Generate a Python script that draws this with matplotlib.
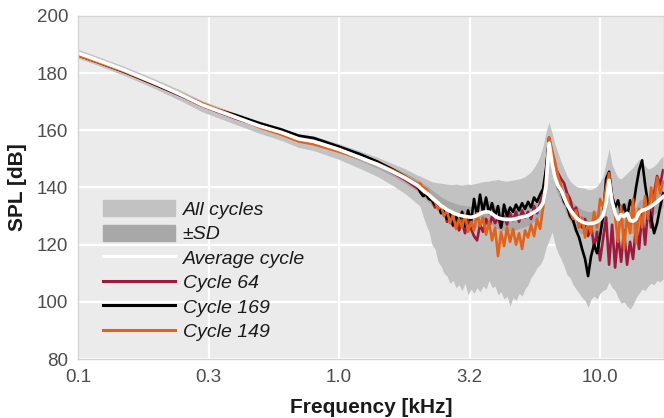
import numpy as np
import matplotlib
matplotlib.use('Agg')
import matplotlib.pyplot as plt
from matplotlib.patches import Patch

plt.rcParams['font.family'] = ['Liberation Sans', 'DejaVu Sans']

# frequency grid [kHz]: smooth low part + dense high part
freq_low = [0.1, 0.12, 0.15, 0.2, 0.25, 0.3, 0.4, 0.5, 0.6, 0.7, 0.8, 1.0, 1.2, 1.4, 1.6, 1.8, 2.0]
freq_high = [2.043, 2.098, 2.154, 2.212, 2.271, 2.332, 2.395, 2.459, 2.525, 2.593,
             2.662, 2.734, 2.807, 2.882, 2.960, 3.039, 3.121, 3.204, 3.290, 3.379,
             3.469, 3.562, 3.658, 3.756, 3.857, 3.960, 4.066, 4.175, 4.287, 4.402,
             4.521, 4.642, 4.766, 4.894, 5.026, 5.160, 5.299, 5.441, 5.587, 5.737,
             5.891, 6.049, 6.211, 6.378, 6.549, 6.725, 6.905, 7.090, 7.280, 7.476,
             7.676, 7.882, 8.093, 8.311, 8.534, 8.762, 8.998, 9.239, 9.487, 9.741,
             10.00, 10.27, 10.55, 10.83, 11.12, 11.42, 11.72, 12.04, 12.36, 12.69,
             13.03, 13.38, 13.74, 14.11, 14.49, 14.88, 15.28, 15.69, 16.11, 16.54,
             16.98, 17.44]

# average cycle [dB]
avg_low = [187.0, 184.4, 181.1, 176.3, 172.3, 168.8, 164.6, 161.4, 159.3, 157.0, 156.1, 153.3, 150.5, 148.1, 145.6, 143.2, 140.7]
avg_high = [139.9, 139.0, 138.2, 137.4, 136.4, 135.5, 134.6, 133.6, 133.0, 132.2,
            131.7, 131.2, 130.7, 130.3, 130.1, 129.9, 129.7, 129.6, 129.8, 130.2,
            130.8, 131.3, 131.5, 131.4, 130.8, 130.0, 129.4, 129.1, 128.9, 128.8,
            128.8, 128.9, 129.1, 129.4, 129.7, 129.9, 130.2, 130.8, 131.4, 132.0,
            133.0, 134.6, 140.5, 155.5, 148.5, 143.5, 140.5, 139.0, 136.5, 134.0,
            132.3, 130.8, 129.5, 128.6, 128.0, 127.6, 127.4, 127.4, 127.6, 128.0,
            128.8, 130.3, 134.5, 142.5, 135.0, 131.0, 128.8, 130.5, 129.8, 131.0,
            128.5, 128.2, 129.0, 131.2, 132.0, 132.3, 132.8, 133.4, 134.2, 135.0,
            135.8, 136.8]

# standard deviation [dB]
sd_low = [0.5, 0.5, 0.5, 0.6, 0.6, 0.7, 0.7, 0.8, 0.8, 0.9, 0.9, 1.0, 1.1, 1.3, 1.5, 1.8, 2.1]
sd_high = [2.3, 2.4, 2.5, 2.6, 2.7, 2.8, 3.0, 3.1,
           3.2, 3.3, 3.4, 3.5, 3.6, 3.7, 3.7, 3.8, 3.8, 3.9,
           3.9, 4.0, 4.0, 4.0, 4.0, 4.0, 4.0, 4.0, 4.0, 4.0, 4.0, 4.0, 4.0, 4.0,
           3.9, 3.8, 3.7, 3.6, 3.5, 3.4, 3.3, 3.2, 3.1,
           3.0, 2.8, 2.5, 2.8, 3.0, 3.2,
           3.5, 3.7, 3.9, 4.0, 4.1, 4.2, 4.3, 4.3, 4.3, 4.2, 4.1, 4.0, 3.9, 3.7, 3.5,
           3.2, 3.0, 3.2, 3.5,
           3.8, 4.0, 4.1, 4.2, 4.3, 4.3, 4.2, 4.1, 4.0, 3.9, 3.8, 3.7, 3.6, 3.6, 3.6, 3.6]

# envelope of all cycles [dB]
max_low = [188.3, 185.7, 182.4, 177.7, 173.8, 170.3, 166.1, 163.0, 161.0, 158.8, 158.0, 155.3, 152.8, 150.6, 148.4, 146.4, 144.3]
max_high = [144.0, 143.5, 143.0, 142.5, 142.0, 141.8, 141.6, 141.5, 141.3, 141.2,
            141.0, 141.0, 141.2, 141.0, 140.8, 141.0, 141.2, 141.0, 141.3, 141.5,
            141.8, 142.0, 142.2, 142.2, 142.5, 142.6, 142.8, 142.5, 142.3, 142.2,
            142.4, 142.6, 142.8, 143.0, 143.3, 143.8, 144.6, 145.5, 147.0, 148.7,
            151.0, 154.5, 159.5, 162.8, 159.0, 155.0, 152.0, 149.0, 146.5, 144.0,
            142.2, 141.2, 140.5, 140.0, 139.9, 139.6, 139.3, 139.3, 139.8, 140.5,
            142.0, 144.0, 149.0, 153.5, 148.0, 145.5, 143.5, 143.0, 144.0, 145.0,
            146.0, 147.0, 148.5, 149.8, 149.0, 147.5, 146.5, 146.8, 147.5, 148.5,
            150.0, 151.0]
min_low = [185.2, 182.6, 179.2, 174.3, 170.1, 166.4, 162.1, 158.8, 156.5, 154.0, 152.9, 149.8, 146.7, 143.9, 140.8, 137.7, 134.2]
min_high = [133.4, 130.0, 127.0, 124.5, 120.0, 118.5, 114.0, 112.5, 110.0, 109.0,
            106.5, 107.5, 105.0, 106.0, 104.0, 106.5, 102.5, 104.5, 103.0, 105.0,
            103.5, 105.5, 104.5, 107.5, 105.0, 105.5, 102.5, 103.5, 101.0, 102.0,
            98.5, 101.5, 100.5, 103.0, 102.0, 104.5, 106.0, 108.5, 110.0, 112.0,
            113.0, 115.0, 119.0, 121.5, 124.5, 120.0, 117.0, 115.0, 112.5, 109.5,
            108.5, 106.0, 104.5, 103.0, 101.5, 100.5, 98.0, 101.0, 102.0, 101.0,
            103.0, 104.0, 104.5, 107.0, 105.0, 104.0, 101.5, 99.5, 100.0, 98.5,
            97.5, 99.0, 101.5, 103.0, 104.5, 104.0, 105.5, 106.5, 106.0, 107.5,
            107.0, 108.0]

# single cycles [dB]
c64_low = [186.4, 183.8, 180.5, 175.7, 171.9, 168.5, 164.2, 161.4, 159.6, 157.4, 156.6, 153.6, 150.7, 148.1, 145.3, 142.6, 139.7]
c64_high = [139.0, 137.5, 137.8, 136.0, 135.5, 133.0, 134.0, 131.5, 132.5, 128.0,
            130.5, 126.5, 129.5, 125.0, 128.0, 124.0, 129.0, 125.5, 123.0, 121.5,
            127.0, 124.5, 129.0, 126.0, 130.0, 127.5, 129.5, 126.0, 130.0, 127.0,
            131.0, 128.5, 131.5, 128.0, 132.0, 129.5, 131.5, 129.0, 133.5, 131.0,
            134.5, 138.0, 146.0, 157.5, 152.0, 147.0, 145.0, 143.0, 141.5, 138.0,
            136.0, 131.5, 133.0, 128.5, 126.0, 129.0, 123.0, 127.0, 119.0, 124.5,
            114.5, 122.0, 129.5, 113.0, 127.0, 112.0, 123.5, 114.0, 125.0, 113.0,
            121.0, 115.0, 127.0, 118.5, 131.0, 120.0, 133.0, 126.0, 138.0, 144.0,
            141.0, 146.0]
c169_low = [186.2, 183.7, 180.5, 175.8, 172.1, 168.8, 165.4, 162.4, 160.3, 158.1, 157.3, 154.3, 151.7, 149.1, 146.4, 143.7, 140.7]
c169_high = [138.5, 137.0, 137.5, 136.0, 135.5, 134.0, 134.5, 131.0, 132.5, 129.0,
             131.0, 127.0, 130.0, 127.5, 131.5, 126.5, 132.0, 128.0, 136.0, 130.0,
             137.5, 131.5, 136.5, 131.0, 134.5, 130.0, 133.5, 126.0, 134.0, 130.0,
             133.0, 131.5, 134.0, 132.0, 134.5, 132.5, 135.0, 133.0, 136.5, 135.0,
             137.5, 139.5, 146.5, 157.0, 149.0, 144.5, 140.0, 138.5, 135.0, 133.5,
             130.0, 128.5, 125.0, 122.5, 118.5, 115.0, 109.0, 116.0, 120.0, 117.0,
             123.0, 130.0, 143.0, 145.5, 137.0, 133.0, 135.5, 131.0, 134.0, 129.5,
             135.5, 133.0, 140.0, 146.0, 149.5, 141.0, 134.0, 129.5, 124.0, 127.5,
             133.0, 138.0]
c149_low = [186.2, 183.7, 180.6, 176.0, 172.5, 169.4, 164.9, 160.9, 158.5, 156.1, 155.1, 152.5, 150.2, 148.4, 146.1, 143.7, 141.3]
c149_high = [141.5, 140.0, 139.5, 138.0, 136.0, 135.0, 132.5, 133.5, 130.0, 132.0,
             127.5, 130.5, 125.5, 129.0, 126.0, 130.5, 124.5, 128.0, 125.0, 131.0,
             126.5, 129.5, 123.5, 128.0, 121.5, 126.0, 116.0, 124.5, 119.5, 126.0,
             121.0, 125.5, 120.0, 124.0, 118.5, 125.0, 122.5, 127.0, 123.0, 129.0,
             125.5, 133.0, 143.0, 157.5, 153.0, 149.0, 144.0, 140.5, 136.0, 137.5,
             131.5, 129.0, 132.0, 126.0, 129.5, 122.5, 128.0, 124.0, 131.5, 126.0,
             136.0, 133.0, 140.0, 145.0, 134.0, 130.0, 121.0, 133.5, 118.5, 130.0,
             124.0, 136.0, 120.5, 132.5, 126.0, 137.0, 129.0, 140.0, 134.0, 143.5,
             138.0, 142.0]

xticks = [0.1, 10 ** -0.5, 1.0, 10 ** 0.5, 10.0]
xtick_labels = ['0.1', '0.3', '1.0', '3.2', '10.0']
yticks = [80, 100, 120, 140, 160, 180, 200]

freq = np.array(freq_low + freq_high)
avg = np.array(avg_low + avg_high)
sd = np.array(sd_low + sd_high)
spl_max = np.array(max_low + max_high)
spl_min = np.array(min_low + min_high)
c64 = np.array(c64_low + c64_high)
c169 = np.array(c169_low + c169_high)
c149 = np.array(c149_low + c149_high)

col_all = '#c2c2c2'
col_sd = '#a8a8a8'
col_64 = '#9e1a3c'
col_169 = '#000000'
col_149 = '#e2621b'

fig = plt.figure(figsize=(6.64, 4.18), dpi=100)
ax = fig.add_axes([0.1175, 0.141, 0.8825, 0.821])
ax.set_facecolor('#ebebeb')

ax.fill_between(freq, spl_min, spl_max, color=col_all, lw=0)
ax.fill_between(freq, avg - sd, avg + sd, color=col_sd, lw=0)
ax.plot(freq, c64, color=col_64, lw=1.9)
ax.plot(freq, c169, color=col_169, lw=1.9)
ax.plot(freq, c149, color=col_149, lw=1.9)
ax.plot(freq, avg, color='white', lw=2.6)

ax.set_xscale('log')
ax.set_xlim(0.1, 10 ** 1.245)
ax.set_ylim(80, 200)
ax.set_xticks(xticks)
ax.set_xticklabels(xtick_labels)
ax.minorticks_off()
ax.set_yticks(yticks)
ax.tick_params(length=0, labelsize=13.5, labelcolor='#4d4d4d', pad=7)
ax.grid(True, color='white', lw=1.6)
ax.set_axisbelow(True)
for s in ax.spines.values():
    s.set_color('#d4d4d4')
    s.set_linewidth(1.0)

ax.set_xlabel('Frequency [kHz]', fontsize=15, fontweight='bold', color='#1a1a1a', labelpad=9)
ax.set_ylabel('SPL [dB]', fontsize=15, fontweight='bold', color='#1a1a1a', labelpad=7)

handles = [Patch(color=col_all), Patch(color=col_sd),
           plt.Line2D([], [], color='white', lw=2.2),
           plt.Line2D([], [], color=col_64, lw=2.2),
           plt.Line2D([], [], color=col_169, lw=2.2),
           plt.Line2D([], [], color=col_149, lw=2.2)]
labels = ['All cycles', '±SD', 'Average cycle', 'Cycle 64', 'Cycle 169', 'Cycle 149']
leg = ax.legend(handles, labels, loc='upper left', bbox_to_anchor=(0.0427, 0.463),
                frameon=False, borderpad=0, borderaxespad=0, handlelength=3.7,
                handleheight=0.9, handletextpad=0.4, labelspacing=0.29,
                prop={'size': 14, 'style': 'italic'})
for t in leg.get_texts():
    t.set_color('#1a1a1a')

fig.savefig('out.png', dpi=100)
